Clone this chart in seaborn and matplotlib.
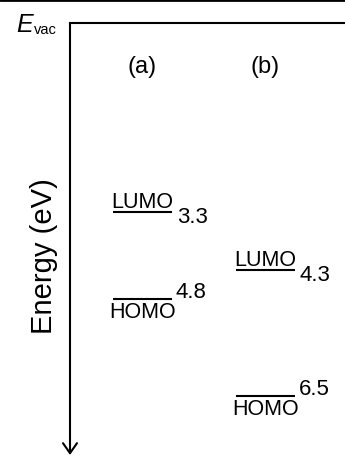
import matplotlib
matplotlib.use("Agg")
import matplotlib.pyplot as plt
from matplotlib.lines import Line2D
import seaborn as sns

# energy levels (eV below vacuum)
molecules = ['(a)', '(b)']
lumo = [3.3, 4.3]
homo = [4.8, 6.5]

sns.set_theme(style='white')
plt.rcParams['font.family'] = ['Liberation Sans', 'DejaVu Sans']
plt.rcParams['text.color'] = 'black'

W, H = 345, 459
col0, col_step = 142.5, 123.0      # pixel centre of first column, spacing
e_top, px_per_ev = 23.0, 57.4      # pixel row of E_vac, scale
half_w = 29.5 / col_step
axis_x = (70 - col0) / col_step
pt = 0.72                          # px -> points at 100 dpi

fig = plt.figure(figsize=(W / 100, H / 100), dpi=100)
ax = fig.add_axes([0, 0, 1, 1])
ax.set_xlim(-col0 / col_step, (W - col0) / col_step)
ax.set_ylim((H - e_top) / px_per_ev, -e_top / px_per_ev)
ax.axis('off')

# vacuum level line and energy axis arrow
ax.plot([axis_x, ax.get_xlim()[1]], [0, 0], color='black', lw=1.5,
        solid_capstyle='projecting')
ax.annotate('', xy=(axis_x, (455 - e_top) / px_per_ev), xytext=(axis_x, 0),
            arrowprops=dict(arrowstyle='->, head_length=0.4, head_width=0.28',
                            mutation_scale=18, lw=1.5, color='black',
                            shrinkA=0, shrinkB=0))

ax.annotate('E', xy=(axis_x, 0), xytext=(-37 * pt, -9 * pt),
            textcoords='offset points', ha='right', va='baseline', fontsize=18,
            style='italic')
ax.annotate('vac', xy=(axis_x, 0), xytext=(-36 * pt, -11 * pt),
            textcoords='offset points', ha='left', va='baseline', fontsize=10.5)
ax.text((44 - col0) / col_step, 4.07, 'Energy (eV)', rotation=90,
        ha='center', va='center', fontsize=21)

for i, name in enumerate(molecules):
    ax.text(i, (73.5 - e_top) / px_per_ev, name, ha='center', va='baseline',
            fontsize=17)
    ax.hlines([lumo[i], homo[i]], i - half_w, i + half_w, color='black', lw=1.5)
    ax.annotate('LUMO', xy=(i, lumo[i]), xytext=(0, 4 * pt),
                textcoords='offset points', ha='center', va='baseline', fontsize=15.5)
    ax.annotate(f'{lumo[i]:.1f}', xy=(i + half_w, lumo[i]), xytext=(5 * pt, -11 * pt),
                textcoords='offset points', ha='left', va='baseline', fontsize=16)
    ax.annotate('HOMO', xy=(i, homo[i]), xytext=(0, -19 * pt),
                textcoords='offset points', ha='center', va='baseline', fontsize=15.5)
    ax.annotate(f'{homo[i]:.1f}', xy=(i + half_w, homo[i]), xytext=(4 * pt, 1 * pt),
                textcoords='offset points', ha='left', va='baseline', fontsize=16)

# thin frame line at the very top of the picture
fig.add_artist(Line2D([0, 1], [1, 1], transform=fig.transFigure, color='black', lw=2))

fig.savefig('out.png', dpi=100)
